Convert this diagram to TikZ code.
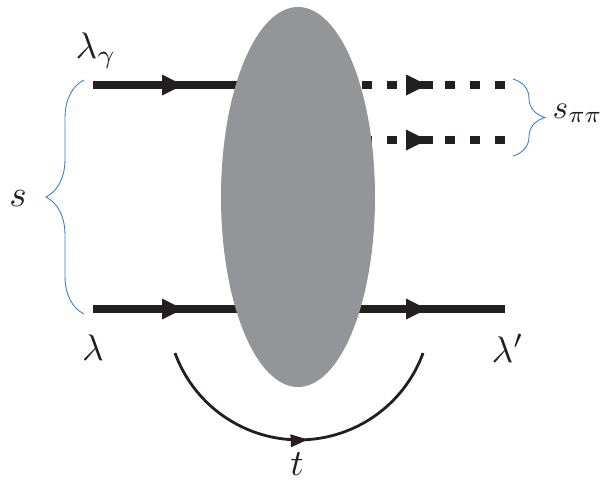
\documentclass[tikz,border=0pt]{standalone}
\usetikzlibrary{shapes.geometric,arrows.meta,decorations.markings,decorations.pathreplacing}
\definecolor{blobgray}{RGB}{147,149,152}
\definecolor{braceblue}{RGB}{58,128,214}
\definecolor{ink}{RGB}{35,31,32}
\begin{document}
\begin{tikzpicture}[x=1pt,y=-1pt,
  ptip/.tip={Triangle[length=21pt,width=21pt,line width=0pt]},
  stip/.tip={Triangle[length=17pt,width=13pt,line width=0pt]},
  prop/.style={line width=7.5pt, draw=ink},
  onetip/.style={postaction={decorate}, decoration={markings, mark=at position #1 with {\arrow[ink]{ptip}}}},
  twotips/.style={postaction={decorate}, decoration={markings,
      mark=at position 90pt with {\arrow[ink]{ptip}},
      mark=at position 334pt with {\arrow[ink]{ptip}}}},
  dashprop/.style={prop, dash pattern=on 0pt off 14pt on 10pt off 15pt on 10pt off 15pt on 10pt off 15pt on 10pt off 10pt on 26pt off 12pt on 10pt off 15pt on 10pt off 15pt on 10pt off 100pt},
  arcline/.style={line width=2.8pt, draw=ink, postaction={decorate},
      decoration={markings, mark=at position 0.527 with {\arrow[ink]{stip}}}},
  bracestyle/.style={draw=braceblue, line width=0.9pt, decorate},
  lbl/.style={scale=3.7, inner sep=0pt, text=ink}]
\useasboundingbox (0,0) rectangle (600,482);

% end points
\coordinate (ga) at (93,85);
\coordinate (gb) at (298,85);
\coordinate (p1) at (505,85);
\coordinate (pb) at (298,140);
\coordinate (p2) at (505,140);
\coordinate (na) at (93,309);
\coordinate (nb) at (505,309);
\coordinate (ta) at (175,353);

% incoming photon line
\draw[prop, onetip=90pt] (ga) -- (gb);
% outgoing pions (dashed)
\draw[dashprop, onetip=129pt] (gb) -- (p1);
\draw[dashprop, onetip=129pt] (pb) -- (p2);
% nucleon line
\draw[prop, twotips] (na) -- (nb);

% blob
\node[ellipse, fill=blobgray, minimum width=154pt, minimum height=380pt, inner sep=0pt] (blob) at (298,197) {};

% t arc
\draw[arcline] (ta) arc[start angle=160, end angle=20, radius=132];

% braces
\coordinate (lb1) at (84,314);
\coordinate (lb2) at (84,80);
\draw[bracestyle, decoration={brace, amplitude=38pt}] (lb1) -- (lb2);
\coordinate (rb1) at (513,79);
\coordinate (rb2) at (513,156);
\draw[bracestyle, decoration={brace, amplitude=32pt}] (rb1) -- (rb2);

% labels
\node[lbl, anchor=base west] (lg) at (75,58) {$\lambda_\gamma$};
\node[lbl, anchor=base] (l) at (93,360) {$\lambda$};
\node[lbl, anchor=base west] (lp) at (491,362) {$\lambda'$};
\node[lbl, anchor=base] (s) at (18,206) {$s$};
\node[lbl, scale=0.9, anchor=base west] (spp) at (552,118) {$s_{\pi\pi}$};
\node[lbl, anchor=base] (t) at (297,475) {$t$};
\end{tikzpicture}
\end{document}
